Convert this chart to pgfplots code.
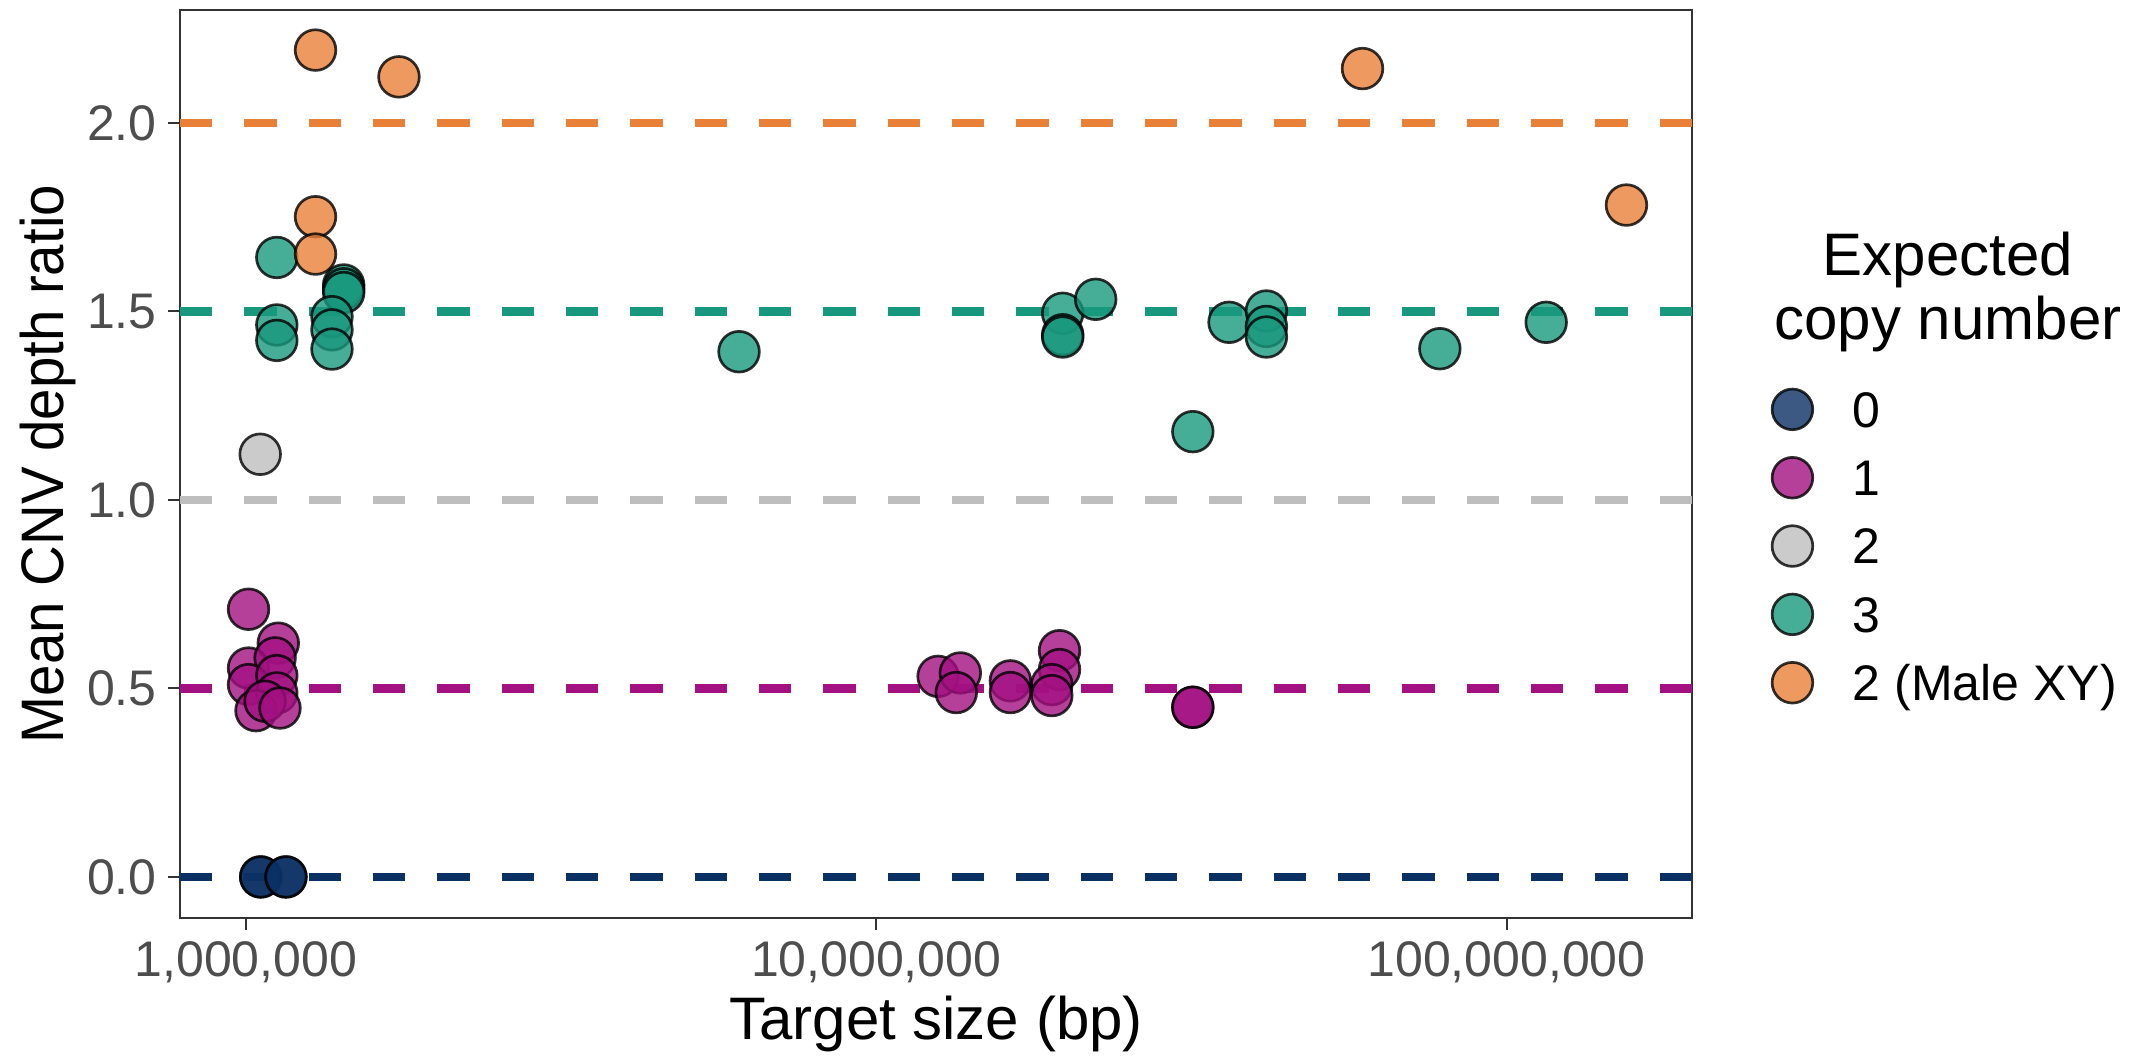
\documentclass[border=0pt]{standalone}
\usepackage{pgfplots}
\pgfplotsset{compat=1.18}
\usepackage{fontspec}
\setmainfont{Liberation Sans}
\definecolor{cnavy}{RGB}{10,48,100}
\definecolor{cmag}{RGB}{163,16,129}
\definecolor{cgray}{RGB}{190,190,190}
\definecolor{cteal}{RGB}{24,152,125}
\definecolor{corange}{RGB}{233,128,56}
\definecolor{tickgray}{RGB}{77,77,77}
\begin{document}
\begin{tikzpicture}
\path (-54pt,-41.7pt) rectangle (592.5pt,275.4pt);
\begin{axis}[
  at={(0pt,0pt)}, anchor=south west,
  scale only axis, width=453.6pt, height=272.4pt,
  xmode=log, xmin=786600, xmax=1.97e8, ymin=-0.109, ymax=2.2993,
  xtick={1e6,1e7,1e8}, xticklabels={{1,000,000},{10,000,000},{100,000,000}},
  xminorticks=false,
  ytick={0,0.5,1,1.5,2}, yticklabels={0.0,0.5,1.0,1.5,2.0},
  tick pos=left,
  tick align=outside, major tick length=3.5pt,
  tick style={color=black!80, line width=0.6pt},
  axis line style={color=black!80, line width=0.5pt},
  xticklabel style={font=\fontsize{15}{18}\selectfont, text=tickgray},
  yticklabel style={font=\fontsize{15}{18}\selectfont, text=tickgray},
  xlabel={Target size (bp)}, ylabel={Mean CNV depth ratio},
  label style={font=\fontsize{18}{21}\selectfont, inner sep=0pt},
  xlabel style={at={(axis description cs:0.5,-0.1167)}, anchor=center},
  ylabel style={at={(axis description cs:-0.0873,0.5)}, anchor=center, xscale=0.94},
  clip=false,
  legend style={at={(axis description cs:1.0525,0.5833)}, anchor=north west,
    draw=none, fill=none, inner sep=0pt, row sep=8.3pt, column sep=12pt,
    nodes={inner sep=0pt, text height=10.7pt, text depth=0pt, font=\fontsize{15}{18}\selectfont}},
  legend cell align=left,
  pt/.style={only marks, mark=*, mark size=6.1pt, draw=black, fill=#1,
    mark options={draw=black, fill=#1, fill opacity=0.8, draw opacity=0.8, line width=0.8pt},
    legend image code/.code={\draw[##1] plot coordinates {(0pt,0pt)};}},
  hl/.style={#1, line width=2.5pt, dash pattern=on 9.7pt off 9.6pt, forget plot},
]
% reference lines
\addplot[hl=cnavy] coordinates {(786600,0) (1.97e8,0)};
\addplot[hl=cmag] coordinates {(786600,0.5) (1.97e8,0.5)};
\addplot[hl=cgray] coordinates {(786600,1) (1.97e8,1)};
\addplot[hl=cteal] coordinates {(786600,1.5) (1.97e8,1.5)};
\addplot[hl=corange] coordinates {(786600,2) (1.97e8,2)};
% copy number 0
\addplot[pt=cnavy] coordinates {
(1.056e6,0) (1.056e6,0) (1.158e6,0) (1.158e6,0)};
\addlegendentry{0}
% copy number 1
\addplot[pt=cmag] coordinates {
(1.01e6,0.710) (1.126e6,0.620) (1.01e6,0.554) (1.113e6,0.581) (1.01e6,0.510)
(1.12e6,0.534) (1.12e6,0.488) (1.038e6,0.441) (1.073e6,0.466) (1.133e6,0.448)
(1.254e7,0.532) (1.36e7,0.541) (1.34e7,0.489) (1.633e7,0.520) (1.633e7,0.489)
(1.954e7,0.600) (1.954e7,0.550) (1.90e7,0.510) (1.90e7,0.481)
(3.18e7,0.450) (3.18e7,0.450)};
\addlegendentry{1}
% copy number 2
\addplot[pt=cgray] coordinates {(1.054e6,1.121)};
\addlegendentry{2}
% copy number 3
\addplot[pt=cteal] coordinates {
(1.12e6,1.643) (1.43e6,1.570) (1.43e6,1.560) (1.43e6,1.550)
(1.12e6,1.464) (1.12e6,1.423) (1.37e6,1.486) (1.37e6,1.451) (1.37e6,1.400)
(6.06e6,1.393) (1.977e7,1.495) (1.977e7,1.438) (1.977e7,1.432) (2.23e7,1.532)
(3.63e7,1.471) (4.16e7,1.501) (4.16e7,1.460) (4.16e7,1.432) (3.18e7,1.181)
(7.84e7,1.401) (1.156e8,1.471)};
\addlegendentry{3}
% 2 (Male XY)
\addplot[pt=corange] coordinates {
(1.29e6,2.193) (1.75e6,2.122) (1.29e6,1.751) (1.29e6,1.652) (5.91e7,2.144) (1.55e8,1.782)};
\addlegendentry{2 (Male XY)}
\node[font=\fontsize{18}{21}\selectfont, anchor=base] at (axis description cs:1.1693,0.7071) {Expected};
\node[font=\fontsize{18}{21}\selectfont, anchor=base] at (axis description cs:1.1693,0.6366) {copy number};
\end{axis}
\end{tikzpicture}
\end{document}
